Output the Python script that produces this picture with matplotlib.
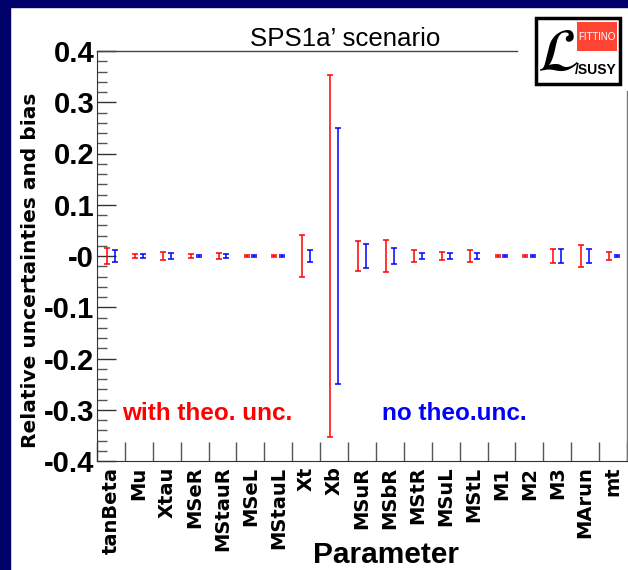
import numpy as np
import matplotlib
matplotlib.use("Agg")
import matplotlib.pyplot as plt
from matplotlib import font_manager
from matplotlib.patches import Rectangle
from matplotlib.ticker import MultipleLocator

# Parameters and relative uncertainties (half widths)
params = ["tanBeta", "Mu", "Xtau", "MSeR", "MStauR", "MSeL", "MStauL", "Xt", "Xb",
          "MSuR", "MSbR", "MStR", "MSuL", "MStL", "M1", "M2", "M3", "MArun", "mt"]
err_theo = [0.015, 0.004, 0.007, 0.004, 0.0055, 0.002, 0.002, 0.041, 0.353,
            0.029, 0.032, 0.0117, 0.0085, 0.012, 0.002, 0.002, 0.013, 0.021, 0.0085]
err_notheo = [0.0115, 0.003, 0.0055, 0.0015, 0.003, 0.001, 0.002, 0.0115, 0.249,
              0.0235, 0.015, 0.0065, 0.0065, 0.0065, 0.002, 0.002, 0.013, 0.013, 0.001]
bias_theo = [0.0] * len(params)
bias_notheo = [0.0] * len(params)
yticks = [-0.4, -0.3, -0.2, -0.1, 0.0, 0.1, 0.2, 0.3, 0.4]
ytick_labels = ["-0.4", "-0.3", "-0.2", "-0.1", "-0", "0.1", "0.2", "0.3", "0.4"]

names = {f.name for f in font_manager.fontManager.ttflist}
narrow = "Liberation Sans Narrow" if "Liberation Sans Narrow" in names else "Liberation Sans"

W, H = 628, 570
fig = plt.figure(figsize=(W / 100, H / 100), dpi=100)

# navy frame on top and left
navy = "#00006a"
fig.add_artist(Rectangle((0, 1 - 7 / H), 1, 7 / H, transform=fig.transFigure,
                         color=navy, zorder=0))
fig.add_artist(Rectangle((0, 0), 10 / W, 1, transform=fig.transFigure,
                         color=navy, zorder=0))

ax = fig.add_axes([97 / W, 109 / H, 530 / W, 410 / H])
x = np.arange(len(params))

ax.errorbar(x + 0.36, bias_theo, yerr=err_theo, fmt="none", ecolor="red",
            elinewidth=1.1, capsize=2, capthick=1.1)
ax.errorbar(x + 0.64, bias_notheo, yerr=err_notheo, fmt="none", ecolor="blue",
            elinewidth=1.1, capsize=2, capthick=1.1)

ax.set_xlim(0, len(params))
ax.set_ylim(-0.4, 0.4)

# frame: top line stops before the logo, right line starts below it
ax.spines["top"].set_visible(False)
ax.spines["right"].set_visible(False)
ax.spines["left"].set_color("#333333")
ax.spines["bottom"].set_color("#333333")
ax.plot([0, 0.792], [1, 1], transform=ax.transAxes, color="#444444", lw=1, clip_on=False)
ax.plot([1, 1], [0, 0.902], transform=ax.transAxes, color="#777777", lw=1, clip_on=False)

# y axis
ax.set_yticks(yticks)
ax.set_yticklabels(ytick_labels, fontfamily=narrow, fontweight="bold", fontsize=21)
ax.yaxis.set_minor_locator(MultipleLocator(0.02))
ax.tick_params(axis="y", which="major", direction="in", length=13.5, width=1,
               color="#333333", pad=2)
ax.tick_params(axis="y", which="minor", direction="in", length=7, width=1,
               color="#555555")

# x axis: labels at bin centres, ticks at bin edges
ax.set_xticks(x + 0.5)
ax.set_xticklabels(params, rotation=90, fontweight="bold", fontsize=14)
ax.set_xticks(np.arange(len(params) + 1), minor=True)
ax.tick_params(axis="x", which="major", length=0, pad=4)
ax.tick_params(axis="x", which="minor", direction="in", length=14, width=1,
               color="#555555")

ax.text(0.047, 0.1, "with theo. unc.", transform=ax.transAxes, color="red",
        fontfamily=narrow, fontweight="bold", fontsize=17.5)
ax.text(0.538, 0.1, "no theo.unc.", transform=ax.transAxes, color="blue",
        fontfamily=narrow, fontweight="bold", fontsize=17.5)

fig.text(31 / W, 1 - 270 / H, "Relative uncertainties and bias", rotation=90,
         ha="center", va="center", fontweight="bold", fontsize=14.5)
fig.text(345 / W, 1 - 46 / H, "SPS1a\u2019 scenario", ha="center", va="baseline",
         fontfamily=narrow, fontsize=18.6)
fig.text(386 / W, 7 / H, "Parameter", ha="center", va="baseline",
         fontfamily=narrow, fontweight="bold", fontsize=21.5)

# Fittino logo
fig.add_artist(Rectangle((536 / W, 1 - 84 / H), 84 / W, 66 / H, transform=fig.transFigure,
                         facecolor="white", edgecolor="black", lw=2.5))
fig.add_artist(Rectangle((577 / W, 1 - 51 / H), 40 / W, 29 / H, transform=fig.transFigure,
                         facecolor="#ff4433", edgecolor="none"))
fig.text(597 / W, 1 - 37 / H, "FITTINO", ha="center", va="center", color="white",
         fontfamily=narrow, fontsize=7)
fig.text(596 / W, 1 - 70 / H, "/SUSY", ha="center", va="center", color="black",
         fontfamily=narrow, fontweight="bold", fontsize=10)
fig.text(558 / W, 1 - 54 / H, r"$\mathcal{L}$", ha="center", va="center",
         color="black", fontsize=44)

fig.savefig("out.png", dpi=100)
